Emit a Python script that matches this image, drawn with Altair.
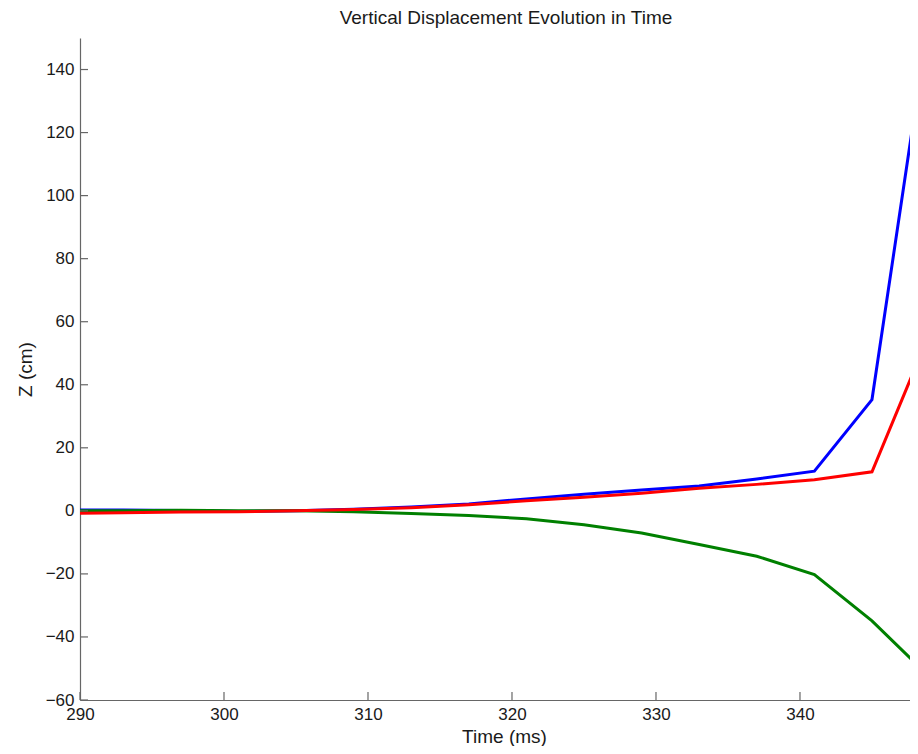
import altair as alt
import pandas as pd

# ---- data ----
time_ms = [289, 293, 297, 301, 305, 309, 313, 317, 321, 325, 329, 333, 337, 341, 345, 349]
z_blue = [0.3, 0.3, 0.1, -0.2, 0.0, 0.5, 1.2, 2.2, 3.8, 5.3, 6.6, 7.9, 10.1, 12.6, 35.3, 158.0]
z_green = [0.0, 0.0, 0.2, 0.0, 0.0, -0.3, -0.8, -1.5, -2.5, -4.4, -7.0, -10.7, -14.4, -20.2, -34.9, -52.7]
z_red = [-0.8, -0.6, -0.4, -0.3, 0.0, 0.4, 1.0, 1.9, 3.2, 4.3, 5.6, 7.2, 8.4, 9.9, 12.4, 56.4]

x_ticks = [290, 300, 310, 320, 330, 340]
y_ticks = [-60, -40, -20, 0, 20, 40, 60, 80, 100, 120, 140]

FONT = "Liberation Sans"
X_DOMAIN = [290, 347.64]
Y_DOMAIN = [-60, 150]
W, H = 830, 662

df = pd.DataFrame({
    "t": time_ms * 3,
    "z": z_blue + z_green + z_red,
    "s": ["blue"] * len(time_ms) + ["green"] * len(time_ms) + ["red"] * len(time_ms),
})
xt = pd.DataFrame({"t": x_ticks})
yt = pd.DataFrame({"z": y_ticks})

xscale = alt.Scale(domain=X_DOMAIN, nice=False, zero=False)
yscale = alt.Scale(domain=Y_DOMAIN, nice=False, zero=False)

xaxis = alt.Axis(values=x_ticks, ticks=False, grid=False, labelFont=FONT, labelFontSize=17,
                 labelColor="#1a1a1a", labelPadding=6, domainColor="#666666", domainWidth=1.2,
                 title="Time (ms)", titleFont=FONT, titleFontSize=19, titleFontWeight="normal",
                 titleColor="#1a1a1a", titleX=424, titleY=42, titleBaseline="alphabetic",
                 titleAlign="center", format="d", labelFlush=False, labelOverlap=False)
yaxis = alt.Axis(values=y_ticks, ticks=False, grid=False, labelFont=FONT, labelFontSize=17,
                 labelColor="#1a1a1a", labelPadding=6, domainColor="#666666", domainWidth=1.2,
                 title="Z (cm)", titleFont=FONT, titleFontSize=19, titleFontWeight="normal",
                 titleColor="#1a1a1a", titleX=-55, titleY=H / 2, titleAngle=270,
                 titleBaseline="middle", titleAlign="center", format="d", labelFlush=False,
                 labelOverlap=False)

layers = []
for name, col in [("blue", "#0000ff"), ("green", "#008000"), ("red", "#ff0000")]:
    layers.append(
        alt.Chart(df).transform_filter(alt.datum.s == name)
        .mark_line(color=col, strokeWidth=3, clip=True)
        .encode(x=alt.X("t:Q", scale=xscale, axis=xaxis),
                y=alt.Y("z:Q", scale=yscale, axis=yaxis))
    )

xtick_layer = alt.Chart(xt).mark_rule(color="#666666", strokeWidth=1.2).encode(
    x=alt.X("t:Q", scale=xscale, axis=xaxis), y=alt.value(H), y2=alt.value(H - 8))
ytick_layer = alt.Chart(yt).mark_rule(color="#666666", strokeWidth=1.2).encode(
    y=alt.Y("z:Q", scale=yscale, axis=yaxis), x=alt.value(0), x2=alt.value(8))

chart = alt.layer(*layers, xtick_layer, ytick_layer).properties(
    width=W, height=H,
    title=alt.TitleParams("Vertical Displacement Evolution in Time", font=FONT, fontSize=19,
                          fontWeight="normal", color="#1a1a1a", anchor="middle", dx=11,
                          dy=19, baseline="alphabetic", offset=14),
    autosize=alt.AutoSizeParams(type="none"),
    padding={"left": 72, "top": 30, "right": 0, "bottom": 46},
).configure(background="white").configure_view(strokeWidth=0, stroke="transparent")

chart.save("out.html", embed_options={"renderer": "svg", "actions": False})
